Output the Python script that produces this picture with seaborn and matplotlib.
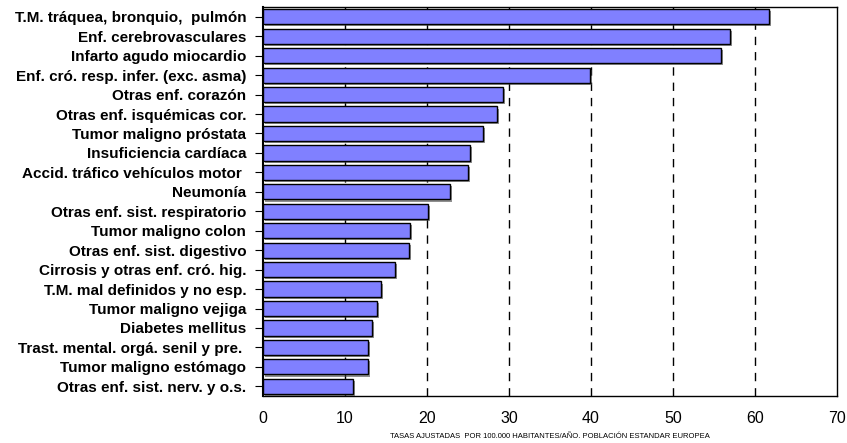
import seaborn as sns
import matplotlib.pyplot as plt
import matplotlib.patheffects as pe
import pandas as pd

causas = [
    'T.M. tráquea, bronquio,  pulmón',
    'Enf. cerebrovasculares',
    'Infarto agudo miocardio',
    'Enf. cró. resp. infer. (exc. asma)',
    'Otras enf. corazón',
    'Otras enf. isquémicas cor.',
    'Tumor maligno próstata',
    'Insuficiencia cardíaca',
    'Accid. tráfico vehículos motor ',
    'Neumonía',
    'Otras enf. sist. respiratorio',
    'Tumor maligno colon',
    'Otras enf. sist. digestivo',
    'Cirrosis y otras enf. cró. hig.',
    'T.M. mal definidos y no esp.',
    'Tumor maligno vejiga',
    'Diabetes mellitus',
    'Trast. mental. orgá. senil y pre. ',
    'Tumor maligno estómago',
    'Otras enf. sist. nerv. y o.s.',
]
tasas = [61.7, 57.0, 55.9, 39.9, 29.3, 28.5, 26.8, 25.2, 25.0, 22.8,
         20.1, 17.9, 17.8, 16.1, 14.4, 13.9, 13.3, 12.8, 12.8, 11.0]
xticks = [0, 10, 20, 30, 40, 50, 60, 70]

df = pd.DataFrame({'causa': causas, 'tasa': tasas})

plt.rcParams['font.family'] = ['Liberation Sans', 'DejaVu Sans']

fig = plt.figure(figsize=(8.47, 4.43), dpi=100)
ax = fig.add_axes([0.3105, 0.106, 0.6775, 0.878])

sns.barplot(data=df, x='tasa', y='causa', orient='h', color='#8080FF',
            saturation=1, width=0.78, edgecolor='black', linewidth=1, ax=ax, zorder=3)

for p in ax.patches:
    p.set_path_effects([pe.SimplePatchShadow(offset=(1.5, -1.5), shadow_rgbFace='#444444', alpha=0.6),
                        pe.Normal()])

ax.set_xlim(0, 70)
ax.set_xticks(xticks)
ax.set_ylim(19.5, -0.5)

# dashed vertical grid lines behind the bars
for v in xticks[1:-1]:
    ax.axvline(v, color='black', linestyle=(0, (6, 5)), linewidth=1, zorder=1)

for s in ax.spines.values():
    s.set_visible(True)
    s.set_color('black')
    s.set_linewidth(1)
ax.spines['left'].set_linewidth(1.5)

ax.tick_params(axis='y', length=6, width=0.8, color='black', pad=6)
ax.tick_params(axis='x', length=0, pad=11, labelsize=11.5)
for lbl in ax.get_yticklabels():
    lbl.set_fontweight('bold')
    lbl.set_fontsize(11)

ax.set_ylabel('')
ax.set_xlabel('TASAS AJUSTADAS  POR 100.000 HABITANTES/AÑO. POBLACIÓN ESTANDAR EUROPEA',
              fontsize=5.5, labelpad=5)

fig.savefig('out.png', dpi=100)
